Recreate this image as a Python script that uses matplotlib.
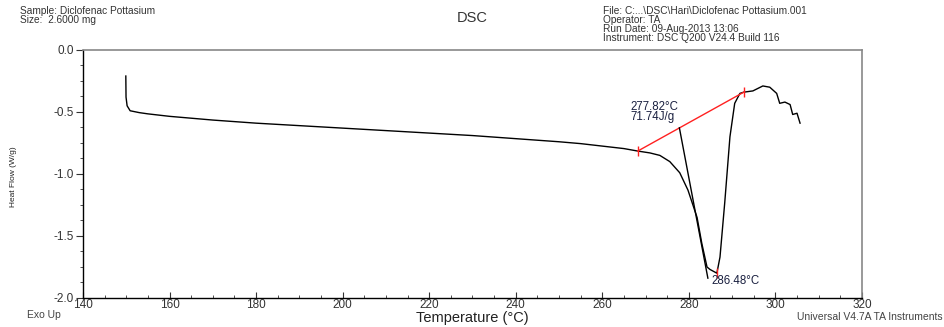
import matplotlib
matplotlib.use("Agg")
import matplotlib.pyplot as plt
from matplotlib.ticker import MultipleLocator

plt.rcParams['font.family'] = ['Liberation Sans', 'DejaVu Sans']

# DSC heat-flow trace (temperature in °C, heat flow in W/g)
temperature = [149.9, 149.95, 150.2, 150.9, 153, 155, 160, 165, 170, 180, 190, 200,
               210, 220, 230, 240, 250, 255, 260, 265, 268.2, 271, 273.3,
               275.6, 277.9, 279.8, 281.9, 283.0, 284.2, 284.9, 286.48,
               287.2, 288.3, 289.5, 290.6, 291.8, 292.7, 294.8, 297.1,
               298.7, 300.3, 301.0, 302.2, 303.4, 304.0, 305.0, 305.7]
heat_flow = [-0.21, -0.38, -0.45, -0.49, -0.505, -0.515, -0.535, -0.55, -0.565, -0.59, -0.61, -0.63,
             -0.65, -0.67, -0.69, -0.715, -0.74, -0.755, -0.775, -0.795, -0.815, -0.83, -0.85,
             -0.90, -0.99, -1.13, -1.35, -1.56, -1.75, -1.77, -1.80,
             -1.67, -1.23, -0.70, -0.43, -0.35, -0.34, -0.33, -0.29,
             -0.30, -0.35, -0.43, -0.42, -0.44, -0.52, -0.51, -0.59]

# Peak integration baseline and onset tangent
baseline_t = [268.2, 292.7]
baseline_hf = [-0.815, -0.34]
onset_t = [277.82, 284.4]
onset_hf = [-0.628, -1.84]
peak_t = 286.48
peak_hf = -1.80
onset_label = "277.82°C\n71.74J/g"
peak_label = "286.48°C"

x_ticks = [140, 160, 180, 200, 220, 240, 260, 280, 300, 320]
y_ticks = [0.0, -0.5, -1.0, -1.5, -2.0]

fig = plt.figure(figsize=(9.45, 3.27), dpi=100)
ax = fig.add_axes([0.0878, 0.0887, 0.8243, 0.7584])

ax.plot(temperature, heat_flow, color='black', lw=1.0)
ax.plot(baseline_t, baseline_hf, color='#ff2020', lw=1.0)
ax.plot(baseline_t, baseline_hf, ls='none', marker='|', ms=7, mew=1.0, color='#ff2020')
ax.plot(onset_t, onset_hf, color='black', lw=1.0)
ax.plot([peak_t], [peak_hf], ls='none', marker='|', ms=7, mew=1.0, color='#ff2020')

ax.text(266.6, -0.585, onset_label, fontsize=8.3, color='#1a2040',
        ha='left', va='bottom', linespacing=0.72)
ax.text(285.3, -1.815, peak_label, fontsize=8.3, color='#1a2040',
        ha='left', va='top')

ax.set_xlim(140, 320)
ax.set_ylim(-2.0, 0.0)
ax.set_xticks(x_ticks)
ax.set_yticks(y_ticks)
ax.set_xticklabels([str(t) for t in x_ticks])
ax.set_yticklabels([f"{v:.1f}" for v in y_ticks])
ax.xaxis.set_minor_locator(MultipleLocator(5))
ax.yaxis.set_minor_locator(MultipleLocator(0.125))

ax.tick_params(axis='x', which='major', direction='in', length=4, width=0.8,
               labelsize=8.5, pad=1.0, colors='#333333', labelcolor='#333333')
ax.tick_params(axis='x', which='minor', direction='in', length=2.5, width=0.6, colors='#333333')
ax.tick_params(axis='y', which='major', direction='out', length=5, width=0.8,
               labelsize=8.5, pad=1.5, colors='#333333', labelcolor='#333333')
ax.tick_params(axis='y', which='minor', direction='out', length=2.5, width=0.6, colors='#333333')

for side in ('left', 'bottom'):
    ax.spines[side].set_color('black')
    ax.spines[side].set_linewidth(1.0)
for side in ('top', 'right'):
    ax.spines[side].set_color('#888888')
    ax.spines[side].set_linewidth(1.2)

ax.set_xlabel("Temperature (°C)", fontsize=10.5, color='#222222', labelpad=0)
ax.set_ylabel("Heat Flow (W/g)", fontsize=6.0, color='#222222')
ax.yaxis.set_label_coords(-0.085, 0.49)

txt = dict(fontsize=7.3, color='#333333', va='top', linespacing=0.86)
fig.text(20 / 945, 1 - 6 / 327, "Sample: Diclofenac Pottasium\nSize:  2.6000 mg", ha='left', **txt)
fig.text(603 / 945, 1 - 6 / 327,
         "File: C:...\\DSC\\Hari\\Diclofenac Pottasium.001\nOperator: TA\n"
         "Run Date: 09-Aug-2013 13:06\nInstrument: DSC Q200 V24.4 Build 116",
         ha='left', **txt)
fig.text(472 / 945, 1 - 11 / 327, "DSC", fontsize=10.5, color='#333333', ha='center', va='top')
fig.text(27 / 945, 1 - 315 / 327, "Exo Up", fontsize=7.5, color='#444444', ha='left', va='center')
fig.text(943 / 945, 1 - 317 / 327, "Universal V4.7A TA Instruments", fontsize=7.5,
         color='#444444', ha='right', va='center')

fig.savefig("out.png", dpi=100)
